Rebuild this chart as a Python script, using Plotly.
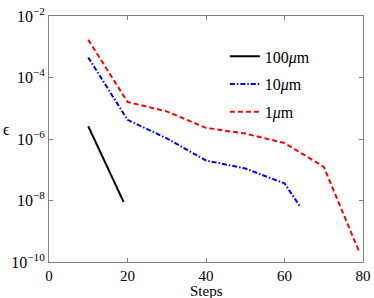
import plotly.graph_objects as go

# Data
x_100 = [10, 19]
y_100 = [2.6e-6, 9e-9]

x_10 = [10, 20, 30, 40, 50, 60, 64]
y_10 = [4.5e-4, 4.2e-6, 1.05e-6, 2.0e-7, 1.1e-7, 3.6e-8, 6.3e-9]

x_1 = [10, 20, 30, 40, 50, 60, 70, 79]
y_1 = [1.7e-3, 1.6e-5, 7.9e-6, 2.3e-6, 1.5e-6, 7.4e-7, 1.25e-7, 2.2e-10]

names = ["100<i>μ</i>m", "10<i>μ</i>m", "1<i>μ</i>m"]
x_ticks = [0, 20, 40, 60, 80]
y_ticks = [1e-10, 1e-8, 1e-6, 1e-4, 1e-2]
y_ticktext = ["10<sup>−10</sup>", "10<sup>−8</sup>", "10<sup>−6</sup>", "10<sup>−4</sup>", "10<sup>−2</sup>"]

serif = "Liberation Serif, Times New Roman, serif"
axis_col = "#7f7f7f"

fig = go.Figure()
fig.add_trace(go.Scatter(x=x_100, y=y_100, mode="lines", name=names[0], legendgroup="a",
                         line=dict(color="black", width=2)))
fig.add_trace(go.Scatter(x=x_10, y=y_10, mode="lines", name=names[1], legendgroup="b",
                         line=dict(color="#0000ff", width=2, dash="5px,2px,1.5px,2px")))
fig.add_trace(go.Scatter(x=x_1, y=y_1, mode="lines", name=names[2], legendgroup="c",
                         line=dict(color="#ff0000", width=2, dash="5px,3px")))

fig.update_layout(
    width=374, height=298,
    margin=dict(l=49, r=11, t=16, b=36),
    paper_bgcolor="white", plot_bgcolor="white",
    font=dict(family=serif, size=15, color="black"),
    showlegend=True,
    legend=dict(x=0.56, y=0.905, xanchor="left", yanchor="top",
                bgcolor="rgba(0,0,0,0)", traceorder="grouped", tracegroupgap=4,
                font=dict(family=serif, size=16)),
    xaxis=dict(range=[0, 80], tickvals=x_ticks, ticks="inside", ticklen=4,
               tickcolor=axis_col, showline=True, linecolor=axis_col, linewidth=1,
               mirror="ticks", showgrid=False, zeroline=False, automargin=False,
               tickfont=dict(size=15)),
    yaxis=dict(type="log", range=[-10, -2], tickvals=y_ticks, ticktext=y_ticktext,
               ticks="inside", ticklen=4, tickcolor=axis_col, showline=True,
               linecolor=axis_col, linewidth=1, mirror="ticks", showgrid=False,
               zeroline=False, automargin=False, tickfont=dict(size=16)),
    annotations=[
        dict(text="Steps", xref="paper", yref="paper", x=0.5, y=-0.117,
             xanchor="center", yanchor="middle", showarrow=False, font=dict(size=15)),
        dict(text="ϵ", xref="paper", yref="paper", x=-0.134, y=0.54,
             xanchor="center", yanchor="middle", showarrow=False, font=dict(size=16)),
    ],
)

fig.write_html("out.html", config={"displayModeBar": False},
               post_script="document.body.style.margin='0';")
